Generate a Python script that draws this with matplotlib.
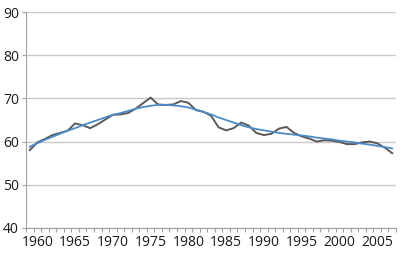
import matplotlib
matplotlib.use("Agg")
import matplotlib.pyplot as plt
from matplotlib.ticker import MultipleLocator

plt.rcParams['font.family'] = ['Open Sans', 'DejaVu Sans']

years = list(range(1959, 2008))
values = [58.0, 59.8, 60.6, 61.5, 62.0, 62.5, 64.2, 63.8, 63.1, 64.0,
          65.1, 66.2, 66.3, 66.6, 67.6, 68.9, 70.2, 68.6, 68.5, 68.6,
          69.4, 69.0, 67.3, 66.9, 66.0, 63.3, 62.6, 63.1, 64.4, 63.7,
          62.0, 61.5, 61.8, 63.0, 63.4, 62.0, 61.2, 60.7, 60.0, 60.3,
          60.2, 59.9, 59.4, 59.4, 59.8, 60.0, 59.6, 58.6, 57.3]
trend = [58.8, 59.6, 60.4, 61.1, 61.8, 62.5, 63.1, 63.8, 64.4, 65.0,
         65.6, 66.2, 66.6, 67.1, 67.6, 68.0, 68.3, 68.5, 68.5, 68.4,
         68.2, 67.9, 67.4, 66.9, 66.3, 65.6, 65.0, 64.4, 63.8, 63.3,
         62.9, 62.6, 62.3, 62.0, 61.8, 61.6, 61.4, 61.2, 60.9, 60.7,
         60.5, 60.2, 60.0, 59.8, 59.5, 59.3, 59.0, 58.7, 58.4]
xlabels = [1960, 1965, 1970, 1975, 1980, 1985, 1990, 1995, 2000, 2005]

fig = plt.figure(figsize=(4.01, 2.56), dpi=100)
ax = fig.add_axes([26 / 401, 1 - 227.7 / 256, 370 / 401, (227.7 - 12.3) / 256])

ax.plot(years, values, color='#5a5a5a', lw=1.4, zorder=3)
ax.plot(years, trend, color='#4a8bc8', lw=1.3, zorder=4)

ax.set_xlim(1958.5, 2007.5)
ax.set_ylim(40, 90)
ax.set_yticks(range(40, 91, 10))
ax.set_xticks(xlabels)
ax.xaxis.set_minor_locator(MultipleLocator(1, offset=0.5))
ax.tick_params(axis='x', which='major', length=0, pad=5, labelsize=10, colors='#1a1a1a')
ax.tick_params(axis='x', which='minor', length=3, color='#a0a0a0', width=0.8)
ax.tick_params(axis='y', length=3, color='#a0a0a0', width=0.8, pad=2,
               labelsize=10, labelcolor='#1a1a1a')

ax.grid(axis='y', color='#c8c8c8', lw=1.0)
ax.set_axisbelow(True)
for s in ['top', 'right']:
    ax.spines[s].set_visible(False)
for s in ['left', 'bottom']:
    ax.spines[s].set_color('#a0a0a0')
    ax.spines[s].set_linewidth(0.8)

fig.savefig('out.png', dpi=100)
